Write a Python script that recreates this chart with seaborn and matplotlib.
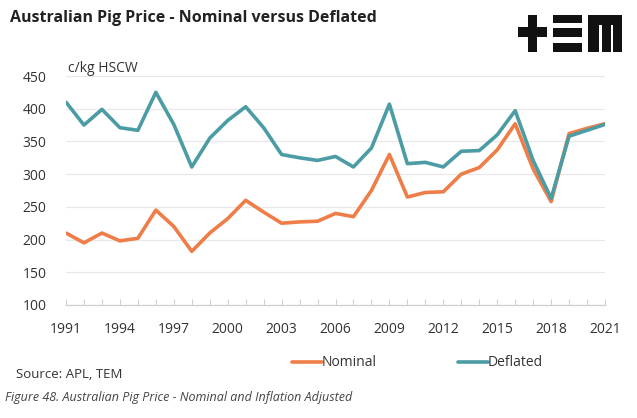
import matplotlib
matplotlib.use("Agg")
import matplotlib.pyplot as plt
import seaborn as sns
import pandas as pd
from matplotlib.patches import Rectangle
from matplotlib.lines import Line2D

years = list(range(1991, 2022))
nominal = [210, 195, 210, 198, 202, 245, 220, 182, 210, 232, 260, 242, 225,
           227, 228, 240, 235, 275, 330, 265, 272, 273, 300, 310, 337, 377,
           308, 258, 362, 370, 377]
deflated = [410, 375, 399, 371, 367, 425, 376, 311, 355, 382, 403, 371, 330,
            325, 321, 327, 311, 340, 407, 316, 318, 311, 335, 336, 360, 397,
            321, 263, 358, 367, 376]
series_names = ["Nominal", "Deflated"]
xtick_labels = [1991, 1994, 1997, 2000, 2003, 2006, 2009, 2012, 2015, 2018, 2021]
yticks = [100, 150, 200, 250, 300, 350, 400, 450]

df = pd.DataFrame({"Year": years * 2,
                   "Price": nominal + deflated,
                   "Series": [series_names[0]] * len(years) + [series_names[1]] * len(years)})

sns.set_theme(style="white")
plt.rcParams['font.family'] = ['Open Sans', 'DejaVu Sans']

ORANGE = "#EE7D47"
TEAL = "#4B9CA4"
TXT = "#333333"

fig = plt.figure(figsize=(6.37, 4.18), dpi=100)
ax = fig.add_axes([66/637, 1-305/418, (605-66)/637, (305-76)/418])

sns.lineplot(data=df, x="Year", y="Price", hue="Series",
             palette={"Nominal": ORANGE, "Deflated": TEAL},
             hue_order=["Nominal", "Deflated"], linewidth=2.6, ax=ax,
             legend=False)

ax.set_xlim(1991, 2021)
ax.set_ylim(100, 450)
ax.set_yticks(yticks)
ax.set_xticks(xtick_labels)
ax.set_xticks(years, minor=True)
ax.set_xticklabels([str(y) for y in xtick_labels], fontsize=10, color=TXT)
ax.set_yticklabels([str(y) for y in yticks], fontsize=10, color=TXT)
ax.set_xlabel("")
ax.set_ylabel("")
ax.grid(axis="y", color="#E8E8E8", linewidth=0.9)
ax.grid(axis="x", visible=False)
for s in ["top", "right", "left"]:
    ax.spines[s].set_visible(False)
ax.spines["bottom"].set_color("#D0D0D0")
ax.spines["bottom"].set_linewidth(0.9)
ax.tick_params(axis="x", which="both", direction="in", length=4, color="#D0D0D0",
               width=0.8, pad=12, bottom=True)
ax.tick_params(axis="y", length=0, pad=14)
ax.set_axisbelow(True)

# Titles and texts
fig.text(10/637, 1-18/418, "Australian Pig Price - Nominal versus Deflated",
         fontsize=11.5, fontweight="bold", color="#222222", va="center", ha="left")
fig.text(68/637, 1-69/418, "c/kg HSCW", fontsize=10, color=TXT, va="center", ha="left")
fig.text(16/637, 1-375/418, "Source: APL, TEM", fontsize=9.5, color=TXT, va="center", ha="left")
fig.text(5/637, 1-398/418, "Figure 48. Australian Pig Price - Nominal and Inflation Adjusted",
         fontsize=9, style="italic", color="#444444", va="center", ha="left")

# Legend
LY = 1 - 362/418
fig.add_artist(Line2D([292/637, 322/637], [LY, LY], color=ORANGE, linewidth=2.6))
fig.text(322/637, LY, "Nominal", fontsize=10, color=TXT, va="center", ha="left")
fig.add_artist(Line2D([458/637, 488/637], [LY, LY], color=TEAL, linewidth=2.6))
fig.text(488/637, LY, "Deflated", fontsize=10, color=TXT, va="center", ha="left")

# TEM logo (decorative shapes)
def rect(x0, y0, x1, y1):
    fig.add_artist(Rectangle((x0/637, 1-y1/418), (x1-x0)/637, (y1-y0)/418,
                             facecolor="#111111", edgecolor="none"))
# plus
rect(518, 27, 547, 37)
rect(528, 15, 537, 52)
# E bars
rect(553, 15, 582, 23)
rect(553, 28, 582, 37)
rect(553, 43, 582, 52)
# M
rect(588, 15, 622, 25)
rect(588, 15, 599, 52)
rect(602, 15, 611, 52)
rect(613, 15, 622, 52)

fig.savefig("out.png", dpi=100, facecolor="white")
